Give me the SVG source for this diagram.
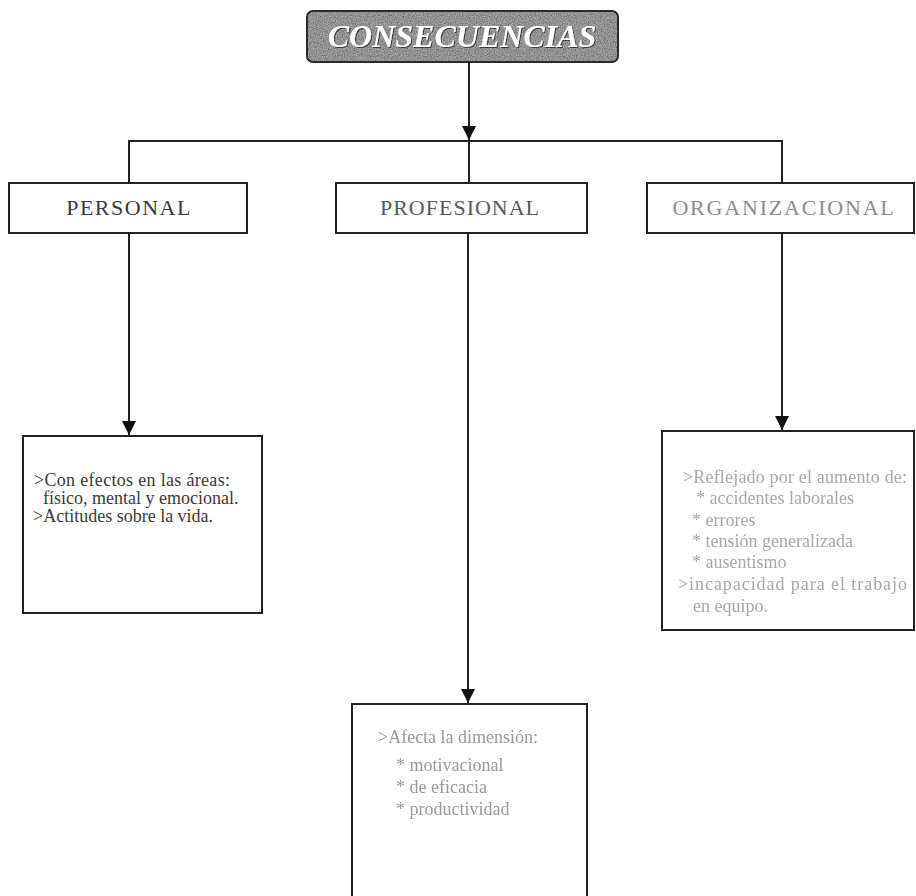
<svg xmlns="http://www.w3.org/2000/svg" width="916" height="896" viewBox="0 0 916 896">
  <defs>
    <style>
      .box { fill: #ffffff; stroke: #222222; stroke-width: 2; }
      .line { fill: none; stroke: #222222; stroke-width: 2; }
      .label { font-family: "Liberation Serif", "Times New Roman", serif; font-size: 22px; text-anchor: middle; }
      .body { font-family: "Liberation Serif", "Times New Roman", serif; font-size: 18px; }
      .title { font-family: "Liberation Serif", "Times New Roman", serif; font-size: 32px; font-weight: bold; font-style: italic; fill: #ffffff; text-anchor: middle; }
    </style>
    <marker id="arrow" viewBox="0 0 14 16" refX="14" refY="7" markerWidth="14" markerHeight="16" markerUnits="userSpaceOnUse" orient="auto">
      <path d="M0,0 L14,7 L0,14 Z" fill="#111111"/>
    </marker>
    <!-- speckled grey texture for the title plate -->
    <filter id="grain" x="0" y="0" width="100%" height="100%">
      <feTurbulence type="fractalNoise" baseFrequency="0.85" numOctaves="2" seed="4" result="noise"/>
      <feColorMatrix in="noise" type="matrix" values="1.6 0 0 0 -0.3  1.6 0 0 0 -0.3  1.6 0 0 0 -0.3  0 0 0 0 0.3" result="speck"/>
      <feComposite in="speck" in2="SourceGraphic" operator="atop"/>
    </filter>
    <filter id="shade" x="-5%" y="-20%" width="110%" height="140%">
      <feDropShadow dx="1" dy="1" stdDeviation="0.6" flood-color="#333333" flood-opacity="0.9"/>
    </filter>
    <filter id="soft" x="-5%" y="-5%" width="110%" height="110%">
      <feGaussianBlur stdDeviation="0.5"/>
    </filter>
  </defs>

  <!-- connectors -->
  <g id="connectors">
    <line class="line" x1="469" y1="62" x2="469" y2="183"/>
    <line class="line" x1="469" y1="62" x2="469" y2="140" marker-end="url(#arrow)"/>
    <line class="line" x1="128" y1="141" x2="783" y2="141"/>
    <line class="line" x1="129" y1="141" x2="129" y2="183"/>
    <line class="line" x1="782" y1="141" x2="782" y2="183"/>
    <line class="line" x1="129" y1="233" x2="129" y2="435" marker-end="url(#arrow)"/>
    <line class="line" x1="468" y1="233" x2="468" y2="703" marker-end="url(#arrow)"/>
    <line class="line" x1="782" y1="233" x2="782" y2="430" marker-end="url(#arrow)"/>
  </g>

  <!-- title -->
  <g id="consecuencias">
    <rect x="307" y="11" width="311" height="51" rx="6" ry="6" fill="#7a7a7a" filter="url(#grain)"/>
    <rect x="307" y="11" width="311" height="51" rx="6" ry="6" fill="none" stroke="#2a2a2a" stroke-width="2"/>
    <text class="title" x="462" y="47" filter="url(#shade)">CONSECUENCIAS</text>
  </g>

  <!-- first level -->
  <g id="personal">
    <rect class="box" x="9" y="183" width="238" height="50"/>
    <text class="label" x="129" y="215" fill="#3a3a3a" letter-spacing="1.5">PERSONAL</text>
  </g>
  <g id="profesional">
    <rect class="box" x="336" y="183" width="251" height="50"/>
    <text class="label" x="460" y="215" fill="#5a5a5a" letter-spacing="1">PROFESIONAL</text>
  </g>
  <g id="organizacional">
    <rect class="box" x="647" y="183" width="267" height="50"/>
    <text class="label" x="784" y="215" fill="#8c8c8c" letter-spacing="1.8">ORGANIZACIONAL</text>
  </g>

  <!-- detail boxes -->
  <g id="personal-detalle">
    <rect class="box" x="23" y="436" width="239" height="177"/>
    <g class="body" fill="#3a3a3a">
      <text x="34" y="486" textLength="196" lengthAdjust="spacing">&gt;Con efectos en las áreas:</text>
      <text x="43" y="504">físico, mental y emocional.</text>
      <text x="33" y="522">&gt;Actitudes sobre la vida.</text>
    </g>
  </g>

  <g id="organizacional-detalle">
    <rect class="box" x="662" y="431" width="252" height="199"/>
    <g class="body" fill="#a8a8a8" filter="url(#soft)">
      <text x="683" y="483" textLength="224" lengthAdjust="spacing">&gt;Reflejado por el aumento de:</text>
      <text x="696" y="504">*  accidentes laborales</text>
      <text x="692" y="526">* errores</text>
      <text x="692" y="547">* tensión generalizada</text>
      <text x="692" y="568">*  ausentismo</text>
      <text x="678" y="590" textLength="229" lengthAdjust="spacing">&gt;incapacidad para el trabajo</text>
      <text x="693" y="612">en equipo.</text>
    </g>
  </g>

  <g id="profesional-detalle">
    <path class="box" d="M352,896 L352,704 L587,704 L587,896"/>
    <g class="body" fill="#9a9a9a" filter="url(#soft)">
      <text x="378" y="743">&gt;Afecta la dimensión:</text>
      <text x="396" y="771">* motivacional</text>
      <text x="396" y="793">* de eficacia</text>
      <text x="396" y="815">* productividad</text>
    </g>
  </g>
</svg>
